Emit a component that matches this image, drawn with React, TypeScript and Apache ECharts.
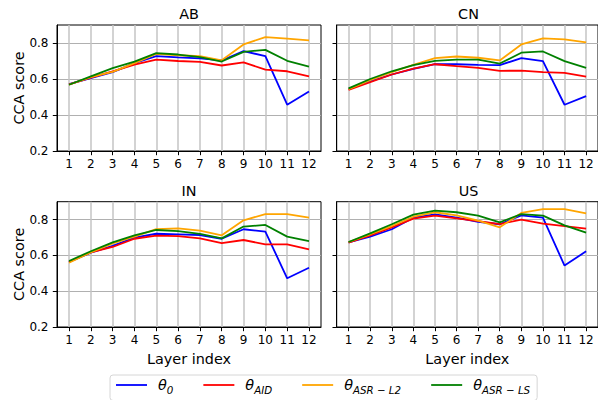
import React, { useEffect, useRef } from 'react';
import * as echarts from 'echarts';

const LAYERS = [1, 2, 3, 4, 5, 6, 7, 8, 9, 10, 11, 12];
const Y_TICKS = [0.2, 0.4, 0.6, 0.8];
const PANELS = ['AB', 'CN', 'IN', 'US'];
const SERIES_NAMES = ['θ0', 'θAID', 'θASR−L2', 'θASR−LS'];
const SERIES_LABELS = ['{t|θ}{s|0}', '{t|θ}{s|AID}', '{t|θ}{s|ASR − L2}', '{t|θ}{s|ASR − LS}'];
const COLORS = ['#0000ff', '#ff0000', '#ffa500', '#008000'];

const AB_THETA0 = [0.572, 0.605, 0.638, 0.688, 0.727, 0.72, 0.715, 0.703, 0.755, 0.727, 0.457, 0.531];
const AB_AID = [0.57, 0.608, 0.642, 0.68, 0.708, 0.7, 0.695, 0.675, 0.692, 0.652, 0.643, 0.615];
const AB_ASR_L2 = [0.568, 0.61, 0.64, 0.688, 0.74, 0.732, 0.727, 0.704, 0.792, 0.833, 0.824, 0.815];
const AB_ASR_LS = [0.568, 0.615, 0.66, 0.697, 0.744, 0.736, 0.722, 0.697, 0.751, 0.762, 0.701, 0.669];

const CN_THETA0 = [0.545, 0.587, 0.625, 0.656, 0.682, 0.682, 0.679, 0.677, 0.716, 0.699, 0.457, 0.505];
const CN_AID = [0.539, 0.582, 0.625, 0.658, 0.682, 0.671, 0.662, 0.645, 0.647, 0.638, 0.634, 0.613];
const CN_ASR_L2 = [0.544, 0.593, 0.638, 0.679, 0.716, 0.725, 0.718, 0.703, 0.792, 0.826, 0.82, 0.803];
const CN_ASR_LS = [0.548, 0.6, 0.643, 0.677, 0.701, 0.708, 0.708, 0.686, 0.746, 0.753, 0.699, 0.662];

const IN_THETA0 = [0.563, 0.615, 0.653, 0.699, 0.721, 0.718, 0.714, 0.693, 0.746, 0.733, 0.472, 0.531];
const IN_AID = [0.563, 0.617, 0.647, 0.693, 0.71, 0.708, 0.695, 0.669, 0.686, 0.662, 0.662, 0.634];
const IN_ASR_L2 = [0.559, 0.617, 0.667, 0.705, 0.747, 0.751, 0.738, 0.712, 0.796, 0.831, 0.831, 0.811];
const IN_ASR_LS = [0.569, 0.623, 0.673, 0.712, 0.742, 0.736, 0.72, 0.695, 0.761, 0.77, 0.705, 0.68];

const US_THETA0 = [0.673, 0.705, 0.746, 0.811, 0.829, 0.811, 0.788, 0.774, 0.824, 0.811, 0.543, 0.623];
const US_AID = [0.671, 0.712, 0.757, 0.805, 0.822, 0.807, 0.792, 0.775, 0.8, 0.777, 0.764, 0.749];
const US_ASR_L2 = [0.675, 0.718, 0.764, 0.816, 0.841, 0.824, 0.794, 0.757, 0.837, 0.859, 0.859, 0.835];
const US_ASR_LS = [0.675, 0.723, 0.774, 0.828, 0.85, 0.841, 0.822, 0.785, 0.831, 0.822, 0.768, 0.727];

const PANEL_DATA = [
  [AB_THETA0, AB_AID, AB_ASR_L2, AB_ASR_LS],
  [CN_THETA0, CN_AID, CN_ASR_L2, CN_ASR_LS],
  [IN_THETA0, IN_AID, IN_ASR_L2, IN_ASR_LS],
  [US_THETA0, US_AID, US_ASR_L2, US_ASR_LS],
];

const FONT = 'DejaVu Sans';
const GRIDS = [
  { left: 57, top: 25, width: 264, height: 126 },
  { left: 336.7, top: 25, width: 263.6, height: 126 },
  { left: 57, top: 201.7, width: 264, height: 125.3 },
  { left: 336.7, top: 201.7, width: 263.6, height: 125.3 },
];

export default function App() {
  const ref = useRef<HTMLDivElement>(null);
  useEffect(() => {
    const chart = echarts.init(ref.current!, null, { renderer: 'svg' });
    const grid = GRIDS.map((g) => ({
      ...g,
      show: true,
      borderColor: '#000',
      borderWidth: 1,
      backgroundColor: 'transparent',
      containLabel: false,
    }));
    const xAxis = GRIDS.map((_, i) => ({
      gridIndex: i,
      type: 'value',
      min: 0.45,
      max: 12.55,
      name: i >= 2 ? 'Layer index' : '',
      nameLocation: 'middle',
      nameGap: 25,
      nameTextStyle: { fontFamily: FONT, fontSize: 14.4, color: '#000' },
      axisLine: { show: true, onZero: false, lineStyle: { color: '#000', width: 1 } },
      axisTick: { show: true, length: 4.2, customValues: LAYERS, lineStyle: { color: '#000', width: 1 } },
      axisLabel: { customValues: LAYERS, color: '#000', fontFamily: FONT, fontSize: 12, margin: 7 },
      splitLine: { show: true, lineStyle: { color: '#c4c4c4', width: 1.5 } },
    }));
    const yAxis = GRIDS.map((_, i) => ({
      gridIndex: i,
      type: 'value',
      min: 0.2,
      max: 0.9,
      name: i % 2 === 0 ? 'CCA score' : '',
      nameLocation: 'middle',
      nameGap: 31,
      nameRotate: 90,
      nameTextStyle: { fontFamily: FONT, fontSize: 14.4, color: '#000' },
      axisLine: { show: true, onZero: false, lineStyle: { color: '#000', width: 1 } },
      axisTick: { show: true, length: 4.2, customValues: Y_TICKS, lineStyle: { color: '#000', width: 1 } },
      axisLabel: {
        show: i % 2 === 0,
        customValues: Y_TICKS,
        color: '#000',
        fontFamily: FONT,
        fontSize: 12,
        margin: 8.5,
        formatter: (v: number) => v.toFixed(1),
      },
      splitLine: { show: true, lineStyle: { color: '#b0b0b0', width: 1 } },
    }));
    const series: any[] = [];
    PANEL_DATA.forEach((panel, pi) => {
      panel.forEach((vals, si) => {
        series.push({
          type: 'line',
          name: SERIES_NAMES[si],
          xAxisIndex: pi,
          yAxisIndex: pi,
          data: LAYERS.map((x, k) => [x, vals[k]]),
          showSymbol: false,
          symbol: 'none',
          lineStyle: { color: COLORS[si], width: 1.8 },
          itemStyle: { color: COLORS[si] },
          z: 2 + si,
        });
      });
    });
    const graphic = PANELS.map((p, i) => ({
      type: 'text',
      x: GRIDS[i].left + GRIDS[i].width / 2,
      y: GRIDS[i].top - 11,
      silent: true,
      style: {
        text: p,
        fontFamily: FONT,
        fontSize: 14.4,
        fontWeight: 'normal',
        fill: '#000',
        align: 'center',
        verticalAlign: 'middle',
      },
    }));
    const labelMap: Record<string, string> = {};
    SERIES_NAMES.forEach((n, i) => (labelMap[n] = SERIES_LABELS[i]));
    chart.setOption({
      animation: false,
      backgroundColor: '#fff',
      graphic,
      grid,
      xAxis,
      yAxis,
      series,
      legend: {
        data: SERIES_NAMES,
        left: 110,
        top: 375,
        orient: 'horizontal',
        icon: 'rect',
        itemWidth: 31,
        itemHeight: 1.8,
        itemGap: 30,
        padding: [3, 7, 6, 6],
        borderColor: '#d6d6d6',
        borderWidth: 1,
        borderRadius: 3,
        backgroundColor: '#fff',
        formatter: (name: string) => labelMap[name],
        textStyle: {
          color: '#000',
          fontFamily: FONT,
          padding: [0, 0, 0, 6],
          rich: {
            t: { fontFamily: FONT, fontStyle: 'italic', fontSize: 14.4, lineHeight: 19, color: '#000' },
            s: { fontFamily: FONT, fontStyle: 'italic', fontSize: 10.3, lineHeight: 10, verticalAlign: 'bottom', color: '#000' },
          },
        },
      },
    });
    return () => chart.dispose();
  }, []);
  return (
    <div
      ref={ref}
      style={{ position: 'absolute', left: 0, top: 0, width: 598, height: 400, background: '#fff' }}
    />
  );
}
